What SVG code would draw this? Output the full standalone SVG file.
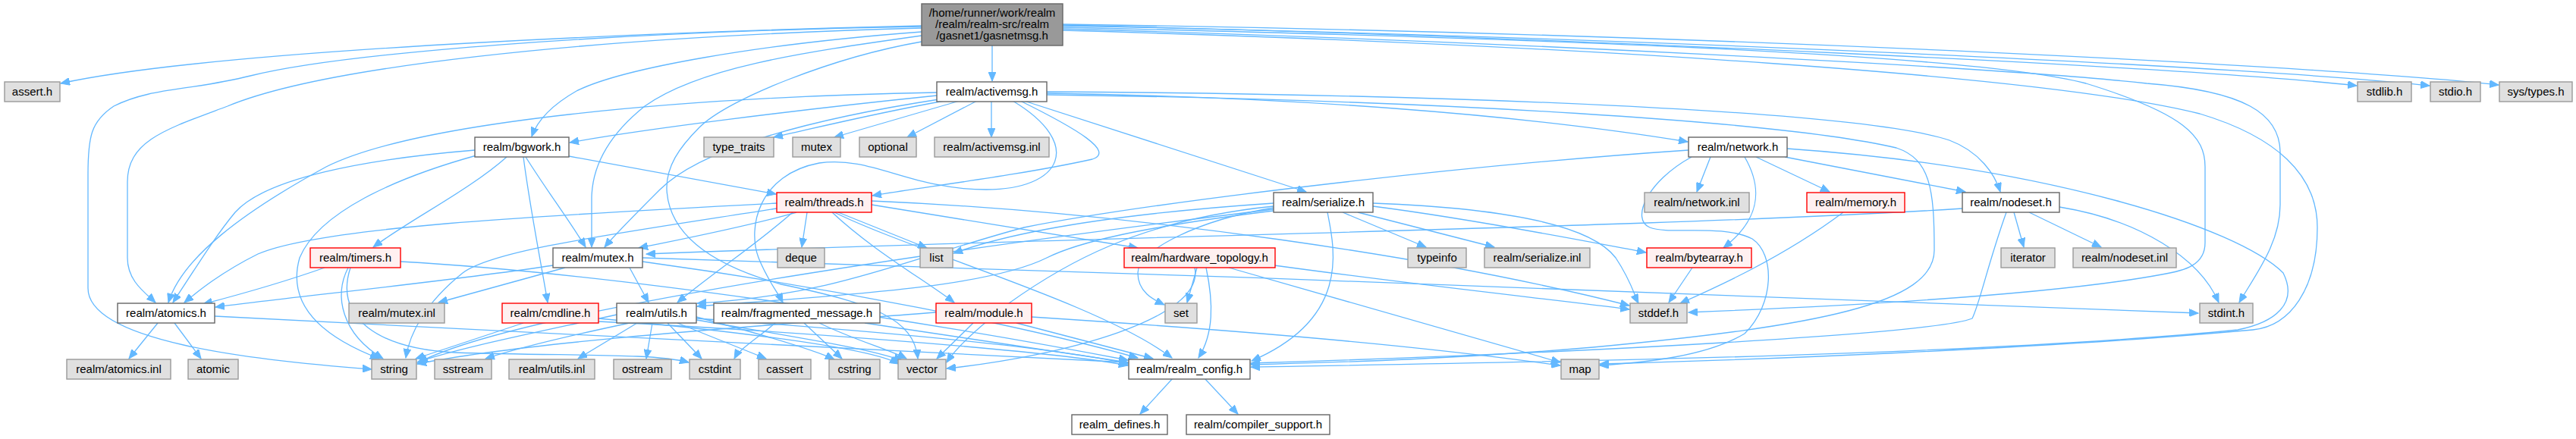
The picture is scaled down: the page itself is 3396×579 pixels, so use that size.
<svg xmlns="http://www.w3.org/2000/svg" width="3396" height="579" viewBox="0 0 3396 579">
<style>
text{font-family:"Liberation Sans",Arial,sans-serif;font-size:15px;fill:#000;text-anchor:middle}
.w{fill:#fff;stroke:#666;stroke-width:1.4}
.g{fill:#e0e0e0;stroke:#999;stroke-width:1.4}
.r{fill:#fff0f0;stroke:#f00;stroke-width:1.4}
.m{fill:#999;stroke:#666;stroke-width:1.4}
.e path{fill:none;stroke:#63b8ff;stroke-width:1.3;marker-end:url(#ah)}
</style>
<defs>
<marker id="ah" markerUnits="userSpaceOnUse" markerWidth="13" markerHeight="10" refX="12" refY="5" orient="auto">
<path d="M0,0 L12,5 L0,10 z" fill="#63b8ff" stroke="#63b8ff" stroke-width="1"/>
</marker>
</defs>
<rect width="3396" height="579" fill="#fff"/>
<g class="e" id="edges">
<path d="M1215,34 C950,40 300,62 80,110"/>
<path d="M1215,35 C800,42 450,70 330,100 C250,120 200,115 150,140 C120,160 116,180 116,230 L116,380 C116,450 330,475 490,487"/>
<path d="M1215,37 C750,50 420,90 300,140 C220,170 168,185 168,240 L168,340 C168,370 190,385 205,399"/>
<path d="M1215,42 C1000,58 820,90 760,120 C725,140 708,160 701,180"/>
<path d="M1215,47 C1050,70 920,90 850,140 C800,180 781,220 780,260 L780,326"/>
<path d="M1215,55 C1100,75 960,130 922,168 C895,195 878,220 879,250 C882,310 940,350 1030,375 C1150,400 1205,420 1210,473"/>
<path d="M1308,60 L1308,107"/>
<path d="M1401,33 C2100,50 2900,90 3107,113"/>
<path d="M1401,34 C2200,50 3000,90 3203,113"/>
<path d="M1401,32 C2300,45 3100,90 3294,112"/>
<path d="M1401,36 C2000,50 2600,70 2750,110 C2880,150 2907,180 2907,220 L2907,320 C2907,350 2880,357 2850,362 C2700,390 2400,405 2226,412"/>
<path d="M1401,38 C2000,55 2650,90 2830,110 C2960,120 3005,150 3006,200 L3006,270 C3006,320 2975,360 2952,399"/>
<path d="M1401,40 C2100,60 2700,100 2900,150 C3000,180 3055,230 3055,300 C3055,380 3020,430 2970,435 C2700,460 2300,475 2109,480"/>
<path d="M1245,133 C1150,150 1070,170 1020,181"/>
<path d="M1265,133 L1100,181"/>
<path d="M1288,133 L1196,181"/>
<path d="M1307,133 L1307,181"/>
<path d="M1235,126 C1050,145 850,170 751,188"/>
<path d="M1235,122 C900,128 550,160 430,220 C320,280 240,340 222,399"/>
<path d="M1238,131 C1050,160 920,200 870,250 C830,290 810,310 797,326"/>
<path d="M1345,133 C1420,170 1470,200 1440,210 C1350,230 1230,245 1150,258"/>
<path d="M1335,133 C1430,190 1400,250 1300,250 C1200,250 1150,205 1080,215 C1000,230 985,300 1000,340 C1012,370 1025,385 1032,399"/>
<path d="M1350,133 L1722,253"/>
<path d="M1380,123 C1700,128 2000,150 2225,187"/>
<path d="M1380,121 C1900,124 2450,145 2570,185 C2610,200 2630,230 2637,253"/>
<path d="M1380,125 C1900,132 2350,160 2500,195 C2545,210 2550,250 2550,330 C2550,400 2400,430 2100,458 C1900,475 1750,478 1649,481"/>
<path d="M750,206 L1023,256"/>
<path d="M626,198 C480,210 350,235 310,280 C285,310 260,350 228,399"/>
<path d="M693,207 C720,250 750,290 772,326"/>
<path d="M668,207 C620,250 540,290 492,326"/>
<path d="M690,207 C698,270 712,340 722,399"/>
<path d="M628,205 C520,235 420,280 395,340 C375,410 440,450 500,473"/>
<path d="M1024,268 C700,285 420,300 340,335 C290,360 260,385 243,399"/>
<path d="M1050,280 C980,300 900,315 842,327"/>
<path d="M1064,280 L1057,326"/>
<path d="M1105,280 L1222,327"/>
<path d="M1045,280 C1000,320 940,360 893,399"/>
<path d="M1097,280 C1150,330 1220,370 1258,399"/>
<path d="M1149,270 L1500,327"/>
<path d="M1100,280 C1200,330 1450,400 1545,472"/>
<path d="M1024,275 C800,310 650,330 610,360 C560,400 540,440 535,472"/>
<path d="M1149,265 C1500,280 1900,340 2148,403"/>
<path d="M1770,280 L1880,326"/>
<path d="M1790,280 L1970,326"/>
<path d="M1810,272 C1950,290 2100,320 2170,333"/>
<path d="M1810,268 C2000,275 2100,300 2130,340 C2150,370 2155,390 2160,400"/>
<path d="M1750,280 C1760,330 1780,420 1650,476"/>
<path d="M1679,272 C1500,290 1400,350 1330,400 C1280,440 1260,460 1248,478"/>
<path d="M1679,268 C1500,280 1350,300 1257,334"/>
<path d="M1679,274 C1580,290 1500,330 1500,360 C1500,385 1520,395 1535,402"/>
<path d="M1679,276 C1400,310 700,400 552,478"/>
<path d="M1679,278 C1500,300 1420,320 1380,340 C1300,380 1100,390 919,404"/>
<path d="M1578,353 L1565,399"/>
<path d="M1590,353 C1600,400 1600,440 1580,472"/>
<path d="M1575,353 C1590,420 1400,470 1248,486"/>
<path d="M1620,353 L2057,478"/>
<path d="M1680,350 C1900,380 2050,395 2148,408"/>
<path d="M1283,426 L1235,473"/>
<path d="M1340,426 L1520,473"/>
<path d="M1360,418 C1700,440 1900,460 2057,482"/>
<path d="M1234,412 C1000,430 700,450 550,480"/>
<path d="M1022,426 C1000,445 975,460 968,473"/>
<path d="M1060,426 L1110,473"/>
<path d="M1080,426 C1130,450 1170,460 1195,473"/>
<path d="M1140,426 C1300,450 1400,465 1487,478"/>
<path d="M813,415 C700,440 600,460 550,478"/>
<path d="M830,426 C740,445 680,460 640,473"/>
<path d="M840,426 L762,473"/>
<path d="M860,426 L852,473"/>
<path d="M880,426 L925,473"/>
<path d="M893,426 L1010,473"/>
<path d="M918,418 C1000,440 1070,460 1100,474"/>
<path d="M918,422 C1050,445 1150,460 1190,476"/>
<path d="M918,420 C1200,440 1400,460 1487,480"/>
<path d="M690,426 L548,473"/>
<path d="M789,420 C1000,440 1150,460 1185,480"/>
<path d="M789,424 C1100,440 1400,465 1487,482"/>
<path d="M745,353 L578,399"/>
<path d="M830,353 L855,399"/>
<path d="M729,350 C600,370 400,390 284,405"/>
<path d="M847,345 C1100,380 1350,430 1500,472"/>
<path d="M847,340 C1500,360 2500,395 2898,413"/>
<path d="M428,353 C380,370 310,390 268,401"/>
<path d="M459,353 C440,390 450,440 505,473"/>
<path d="M462,353 C440,420 500,460 600,465 C750,470 860,465 908,478"/>
<path d="M528,345 C800,360 1200,420 1487,475"/>
<path d="M208,426 L170,473"/>
<path d="M230,426 L265,473"/>
<path d="M283,417 C700,440 1200,460 1487,478"/>
<path d="M2255,207 L2237,253"/>
<path d="M2315,207 L2412,253"/>
<path d="M2353,207 L2591,253"/>
<path d="M2300,207 C2325,250 2320,290 2272,327"/>
<path d="M2230,207 C2170,240 2150,290 2175,300 C2200,310 2270,295 2310,315 C2340,335 2340,400 2300,440 C2250,470 2170,478 2109,482"/>
<path d="M2356,196 C2700,220 2950,300 3010,360 C3030,400 3000,425 2950,435 C2600,470 2000,478 1649,484"/>
<path d="M2226,198 C1900,220 1500,270 1350,300 C1200,340 1100,390 919,400"/>
<path d="M2430,280 C2350,340 2260,380 2215,400"/>
<path d="M2231,353 L2200,399"/>
<path d="M2655,280 L2668,326"/>
<path d="M2675,280 L2770,326"/>
<path d="M2715,273 C2820,290 2900,340 2925,399"/>
<path d="M2645,280 C2620,350 2610,400 2600,420 C2550,440 2100,465 1649,479"/>
<path d="M2587,275 C2200,300 1500,310 852,335"/>
<path d="M1546,499 L1503,546"/>
<path d="M1588,499 L1632,546"/>
</g>
<g id="n_main"><rect class="m" x="1215" y="5" width="186" height="55"/><text x="1308" y="22">/home/runner/work/realm</text><text x="1308" y="37">/realm/realm-src/realm</text><text x="1308" y="52">/gasnet1/gasnetmsg.h</text></g>
<g id="n_assert"><rect class="g" x="6" y="108" width="73" height="26"/><text x="42.5" y="126">assert.h</text></g>
<g id="n_activemsg"><rect class="w" x="1235" y="108" width="145" height="26"/><text x="1307.5" y="126">realm/activemsg.h</text></g>
<g id="n_stdlib"><rect class="g" x="3108" y="108" width="71" height="26"/><text x="3143.5" y="126">stdlib.h</text></g>
<g id="n_stdio"><rect class="g" x="3204" y="108" width="66" height="26"/><text x="3237" y="126">stdio.h</text></g>
<g id="n_systypes"><rect class="g" x="3295" y="108" width="96" height="26"/><text x="3343" y="126">sys/types.h</text></g>
<g id="n_bgwork"><rect class="w" x="626" y="181" width="124" height="26"/><text x="688" y="199">realm/bgwork.h</text></g>
<g id="n_type_traits"><rect class="g" x="928" y="181" width="92" height="26"/><text x="974" y="199">type_traits</text></g>
<g id="n_mutex"><rect class="g" x="1045" y="181" width="63" height="26"/><text x="1076.5" y="199">mutex</text></g>
<g id="n_optional"><rect class="g" x="1133" y="181" width="75" height="26"/><text x="1170.5" y="199">optional</text></g>
<g id="n_activemsg_inl"><rect class="g" x="1232" y="181" width="151" height="26"/><text x="1307.5" y="199">realm/activemsg.inl</text></g>
<g id="n_network"><rect class="w" x="2226" y="181" width="130" height="26"/><text x="2291" y="199">realm/network.h</text></g>
<g id="n_threads"><rect class="r" x="1024" y="254" width="125" height="26"/><text x="1086.5" y="272">realm/threads.h</text></g>
<g id="n_serialize"><rect class="w" x="1679" y="254" width="131" height="26"/><text x="1744.5" y="272">realm/serialize.h</text></g>
<g id="n_network_inl"><rect class="g" x="2168" y="254" width="138" height="26"/><text x="2237" y="272">realm/network.inl</text></g>
<g id="n_memory"><rect class="r" x="2382" y="254" width="129" height="26"/><text x="2446.5" y="272">realm/memory.h</text></g>
<g id="n_nodeset"><rect class="w" x="2587" y="254" width="128" height="26"/><text x="2651" y="272">realm/nodeset.h</text></g>
<g id="n_timers"><rect class="r" x="409" y="327" width="119" height="26"/><text x="468.5" y="345">realm/timers.h</text></g>
<g id="n_mutex_h"><rect class="w" x="729" y="327" width="118" height="26"/><text x="788" y="345">realm/mutex.h</text></g>
<g id="n_deque"><rect class="g" x="1025" y="327" width="62" height="26"/><text x="1056" y="345">deque</text></g>
<g id="n_list"><rect class="g" x="1213" y="327" width="43" height="26"/><text x="1234.5" y="345">list</text></g>
<g id="n_hwtopo"><rect class="r" x="1482" y="327" width="199" height="26"/><text x="1581.5" y="345">realm/hardware_topology.h</text></g>
<g id="n_typeinfo"><rect class="g" x="1856" y="327" width="77" height="26"/><text x="1894.5" y="345">typeinfo</text></g>
<g id="n_serialize_inl"><rect class="g" x="1957" y="327" width="139" height="26"/><text x="2026.5" y="345">realm/serialize.inl</text></g>
<g id="n_bytearray"><rect class="r" x="2171" y="327" width="138" height="26"/><text x="2240" y="345">realm/bytearray.h</text></g>
<g id="n_iterator"><rect class="g" x="2638" y="327" width="71" height="26"/><text x="2673.5" y="345">iterator</text></g>
<g id="n_nodeset_inl"><rect class="g" x="2733" y="327" width="136" height="26"/><text x="2801" y="345">realm/nodeset.inl</text></g>
<g id="n_atomics"><rect class="w" x="155" y="400" width="128" height="26"/><text x="219" y="418">realm/atomics.h</text></g>
<g id="n_mutex_inl"><rect class="g" x="460" y="400" width="126" height="26"/><text x="523" y="418">realm/mutex.inl</text></g>
<g id="n_cmdline"><rect class="r" x="662" y="400" width="127" height="26"/><text x="725.5" y="418">realm/cmdline.h</text></g>
<g id="n_utils"><rect class="w" x="813" y="400" width="105" height="26"/><text x="865.5" y="418">realm/utils.h</text></g>
<g id="n_fragmsg"><rect class="w" x="941" y="400" width="219" height="26"/><text x="1050.5" y="418">realm/fragmented_message.h</text></g>
<g id="n_module"><rect class="r" x="1234" y="400" width="126" height="26"/><text x="1297" y="418">realm/module.h</text></g>
<g id="n_set"><rect class="g" x="1536" y="400" width="42" height="26"/><text x="1557" y="418">set</text></g>
<g id="n_stddef"><rect class="g" x="2149" y="400" width="75" height="26"/><text x="2186.5" y="418">stddef.h</text></g>
<g id="n_stdint"><rect class="g" x="2900" y="400" width="70" height="26"/><text x="2935" y="418">stdint.h</text></g>
<g id="n_atomics_inl"><rect class="g" x="88" y="474" width="137" height="26"/><text x="156.5" y="492">realm/atomics.inl</text></g>
<g id="n_atomic"><rect class="g" x="248" y="474" width="66" height="26"/><text x="281" y="492">atomic</text></g>
<g id="n_string"><rect class="g" x="490" y="474" width="59" height="26"/><text x="519.5" y="492">string</text></g>
<g id="n_sstream"><rect class="g" x="573" y="474" width="75" height="26"/><text x="610.5" y="492">sstream</text></g>
<g id="n_utils_inl"><rect class="g" x="671" y="474" width="113" height="26"/><text x="727.5" y="492">realm/utils.inl</text></g>
<g id="n_ostream"><rect class="g" x="809" y="474" width="76" height="26"/><text x="847" y="492">ostream</text></g>
<g id="n_cstdint"><rect class="g" x="909" y="474" width="67" height="26"/><text x="942.5" y="492">cstdint</text></g>
<g id="n_cassert"><rect class="g" x="1000" y="474" width="69" height="26"/><text x="1034.5" y="492">cassert</text></g>
<g id="n_cstring"><rect class="g" x="1093" y="474" width="67" height="26"/><text x="1126.5" y="492">cstring</text></g>
<g id="n_vector"><rect class="g" x="1184" y="474" width="63" height="26"/><text x="1215.5" y="492">vector</text></g>
<g id="n_realm_config"><rect class="w" x="1488" y="474" width="160" height="26"/><text x="1568" y="492">realm/realm_config.h</text></g>
<g id="n_map"><rect class="g" x="2058" y="474" width="50" height="26"/><text x="2083" y="492">map</text></g>
<g id="n_realm_defines"><rect class="w" x="1413" y="547" width="126" height="26"/><text x="1476" y="565">realm_defines.h</text></g>
<g id="n_compiler_support"><rect class="w" x="1564" y="547" width="189" height="26"/><text x="1658.5" y="565">realm/compiler_support.h</text></g>
</svg>
